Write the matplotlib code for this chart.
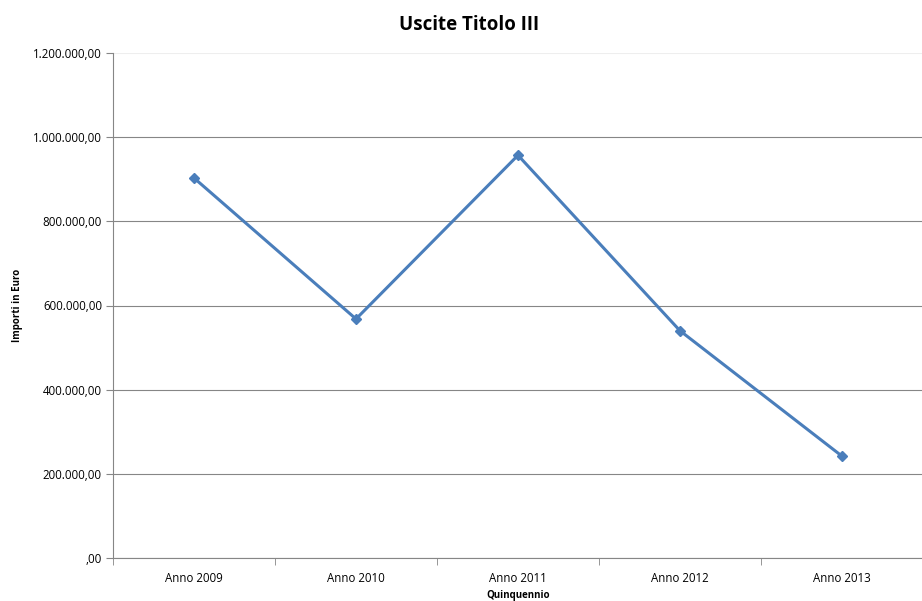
import matplotlib.pyplot as plt
from matplotlib.ticker import FuncFormatter, FixedLocator
import numpy as np

plt.rcParams['font.family'] = ['Open Sans', 'DejaVu Sans']

anni = ["Anno 2009", "Anno 2010", "Anno 2011", "Anno 2012", "Anno 2013"]
uscite = [903000, 568000, 957000, 540000, 242000]
y_ticks = [0, 200000, 400000, 600000, 800000, 1000000, 1200000]


def euro(v, pos):
    s = "{:,.2f}".format(v).replace(",", "X").replace(".", ",").replace("X", ".")
    if s.startswith("0,"):
        s = s[1:]
    return s


fig = plt.figure(figsize=(9.22, 6.01), dpi=100)
ax = fig.add_axes([113 / 922, 43 / 601, 810 / 922, 505 / 601])

x = np.arange(len(anni))
ax.plot(x, uscite, color="#4a7ebb", lw=2.2, marker="D", ms=5.5, zorder=3)

ax.set_xlim(-0.5, len(anni) - 0.5)
ax.set_ylim(0, 1200000)
ax.yaxis.set_major_locator(FixedLocator(y_ticks))
ax.yaxis.set_major_formatter(FuncFormatter(euro))
ax.set_xticks(x)
ax.set_xticklabels(anni)
ax.set_xticks(np.arange(len(anni) + 1) - 0.5, minor=True)
ax.tick_params(axis="x", which="major", length=0, pad=10, labelsize=8.3)
ax.tick_params(axis="x", which="minor", length=5, color="#868686")
ax.tick_params(axis="y", length=5, color="#868686", labelsize=8.3, pad=3)

ax.grid(axis="y", color="#868686", lw=0.8)
ax.set_axisbelow(True)
# the top gridline is only a faint edge
ax.get_ygridlines()[-1].set_color("#eeeeee")
for side in ["top", "right"]:
    ax.spines[side].set_visible(False)
for side in ["left", "bottom"]:
    ax.spines[side].set_color("#868686")

fig.suptitle("Uscite Titolo III", x=0.509, y=0.975, fontsize=13.5, fontweight="bold")
ax.set_ylabel("Importi in Euro", fontsize=7, fontweight="bold", labelpad=7)
ax.set_xlabel("Quinquennio", fontsize=7, fontweight="bold", labelpad=4)

fig.savefig("out.png", dpi=100)
